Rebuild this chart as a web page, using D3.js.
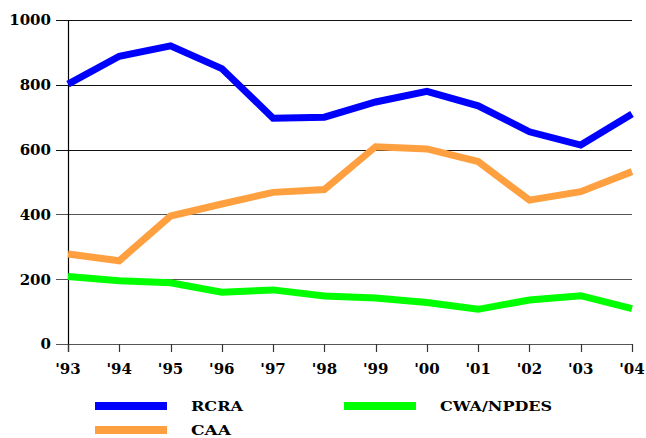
<!DOCTYPE html>
<html><head><meta charset="utf-8">
<script src="https://cdn.jsdelivr.net/npm/d3@7/dist/d3.min.js"></script>
<style>body{margin:0;background:#fff}svg{display:block}</style>
</head><body><svg width="646" height="438"></svg>
<script>
const years = ["'93","'94","'95","'96","'97","'98","'99","'00","'01","'02","'03","'04"];
const rcra = [802, 888, 920, 850, 697, 700, 747, 780, 735, 655, 614, 710];
const caa = [278, 257, 395, 432, 468, 477, 609, 602, 563, 444, 470, 532];
const cwa = [208, 195, 189, 160, 167, 148, 142, 128, 107, 136, 149, 109];
const yTicks = [0, 200, 400, 600, 800, 1000];
const seriesNames = ["RCRA", "CAA", "CWA/NPDES"];
const colors = ["#0000ff", "#ffa040", "#00ff00"];
const FONT = "'DejaVu Serif', serif";

const svg = d3.select("svg");
const x = d3.scalePoint().domain(years).range([68, 632]);
const y = d3.scaleLinear().domain([0, 1000]).range([344, 20]);

svg.append("g").selectAll("line").data(yTicks).join("line")
  .attr("x1", 56).attr("x2", 632)
  .attr("y1", d => Math.round(y(d)) + 0.5).attr("y2", d => Math.round(y(d)) + 0.5)
  .attr("stroke", d => d >= 600 ? "#111" : "#555").attr("stroke-width", 1.2);

svg.append("line").attr("x1", 68.5).attr("x2", 68.5).attr("y1", 20).attr("y2", 352)
  .attr("stroke", "#000").attr("stroke-width", 1.2);
svg.append("g").selectAll("line").data(years).join("line")
  .attr("x1", d => Math.round(x(d)) + 0.5).attr("x2", d => Math.round(x(d)) + 0.5)
  .attr("y1", 344).attr("y2", 352).attr("stroke", "#333").attr("stroke-width", 1.2);

svg.append("g").selectAll("text").data(yTicks).join("text")
  .attr("x", 51).attr("y", d => y(d)).attr("dy", "0.36em")
  .attr("text-anchor", "end").attr("font-family", FONT).attr("font-weight", "bold")
  .attr("font-size", 15).text(d => d);
svg.append("g").selectAll("text").data(years).join("text")
  .attr("x", d => x(d)).attr("y", 374)
  .attr("text-anchor", "middle").attr("font-family", FONT).attr("font-weight", "bold")
  .attr("font-size", 15).text(d => d);

const line = d3.line().x((d, i) => x(years[i])).y(d => y(d));
[rcra, caa, cwa].forEach((s, k) => {
  svg.append("path").datum(s).attr("d", line).attr("fill", "none")
    .attr("stroke", colors[k]).attr("stroke-width", 7).attr("stroke-linejoin", "miter");
});

const leg = [
  {name: seriesNames[0], c: colors[0], x: 95, y: 406, tl: 52},
  {name: seriesNames[1], c: colors[1], x: 95, y: 430, tl: 40},
  {name: seriesNames[2], c: colors[2], x: 344, y: 406, tl: 112}
];
leg.forEach(l => {
  svg.append("line").attr("x1", l.x).attr("x2", l.x + 72).attr("y1", l.y).attr("y2", l.y)
    .attr("stroke", l.c).attr("stroke-width", 8);
  svg.append("text").attr("x", l.x + 96).attr("y", l.y + 5)
    .attr("font-family", FONT).attr("font-weight", "bold")
    .attr("font-size", 13).attr("textLength", l.tl).attr("lengthAdjust", "spacingAndGlyphs")
    .text(l.name);
});
</script></body></html>
